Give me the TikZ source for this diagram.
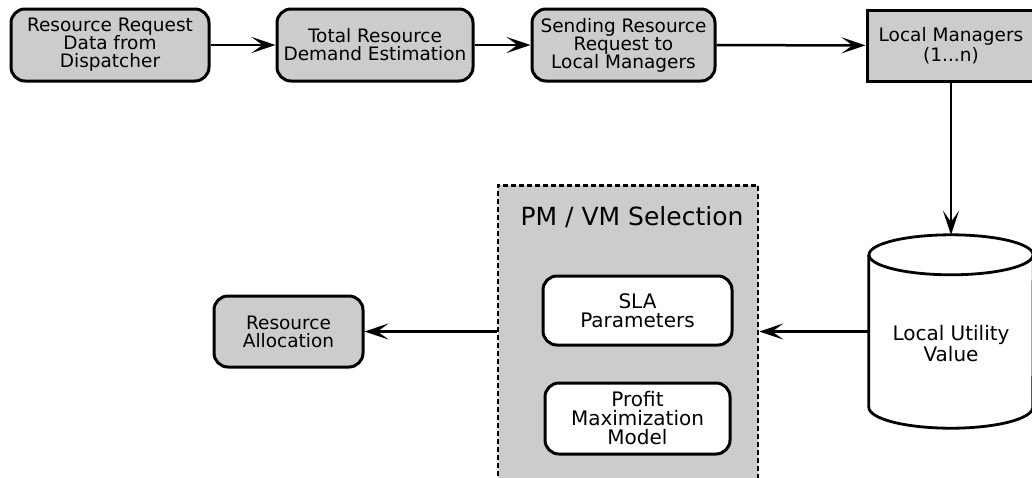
\documentclass[tikz,border=0pt]{standalone}
\usepackage{fontspec}
\setmainfont{DejaVu Sans}
\usetikzlibrary{arrows.meta,calc}

\definecolor{boxgray}{HTML}{CCCCCC}

\begin{document}
\begin{tikzpicture}[
    x=1pt, y=-1pt,
    stepbox/.style={draw, line width=3pt, fill=boxgray, rounded corners=14pt,
        minimum height=72pt, inner sep=0pt, align=center,
        font=\fontsize{18.5}{18}\selectfont},
    mgrbox/.style={draw, line width=3pt, fill=boxgray,
        minimum width=168pt, minimum height=71pt, inner sep=0pt, align=center,
        font=\fontsize{18.5}{20}\selectfont},
    selbox/.style={draw, line width=2.5pt, fill=boxgray,
        dash pattern=on 5pt off 3pt},
    innerbox/.style={draw, line width=3pt, fill=white, rounded corners=14pt,
        inner sep=0pt, align=center, font=\fontsize{20}{19}\selectfont},
    cylbox/.style={minimum width=164pt, minimum height=193pt, inner sep=0pt},
    cylline/.style={line width=2.8pt},
    flow/.style={line width=2.5pt, -{Stealth[length=24pt,width=16pt,inset=11pt]}}
]

    % canvas
    \useasboundingbox (0,0) rectangle (1032,477);
    \clip (0,0) rectangle (1032,477);


    % request chain
    \node[stepbox, minimum width=198pt] (req) at (110,45)
        {Resource Request\\Data from\\Dispatcher};
    \node[stepbox, minimum width=196pt] (demand) at (375,45)
        {Total Resource\\Demand Estimation};
    \node[stepbox, minimum width=183pt] (send) at (623.5,45)
        {Sending Resource\\Request to\\Local Managers};
    \node[mgrbox] (mgr) at (951,45.5) {Local Managers\\(1...n)};

    \draw[flow] (req) -- (demand);
    \draw[flow] (demand) -- (send);
    \draw[flow] (send) -- (mgr);


    % local utility value
    \node[cylbox] (util) at (951,331.5) {};
    \draw[cylline]
        (util.north) ++(0,20)
        ellipse [x radius=82pt, y radius=20pt];
    \draw[cylline]
        ([yshift=-20pt]util.north west) --
        ([yshift=21pt]util.south west)
        arc [start angle=180, end angle=360, x radius=82pt, y radius=21pt] --
        ([yshift=-20pt]util.north east);
    \node[align=center, font=\fontsize{20}{18}\selectfont] (utiltext)
        at ([yshift=-12pt]util.center) {Local Utility\\Value};

    \draw[flow] (mgr) -- (util);


    % selection
    \node[selbox, minimum width=260pt, minimum height=330pt, anchor=north] (sel)
        at (628,184) {};
    \node[font=\fontsize{25}{28}\selectfont] (seltitle) at (632,217)
        {PM / VM Selection};
    \node[innerbox, minimum width=189pt, minimum height=69pt] (sla)
        at (637.5,310.5) {SLA\\Parameters};
    \node[innerbox, minimum width=185pt, minimum height=71pt] (profit)
        at (637.5,418.5) {Profit\\Maximization\\Model};

    \draw[flow] (util.west) -- (util.west -| sel.east);


    % allocation
    \node[stepbox, minimum width=149pt, minimum height=71pt] (alloc)
        at (288.5,331.5) {Resource\\Allocation};

    \draw[flow] (sel.west |- alloc.east) -- (alloc.east);

\end{tikzpicture}
\end{document}
